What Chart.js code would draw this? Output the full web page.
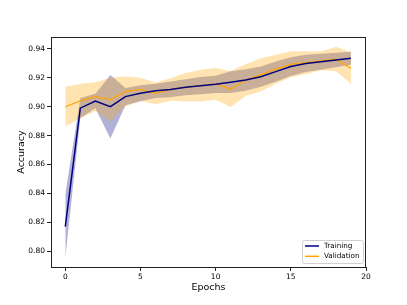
<!DOCTYPE html>
<html>
<head>
<meta charset="utf-8">
<script src="https://cdn.jsdelivr.net/npm/chart.js@4"></script>
<style>
  html, body { margin: 0; padding: 0; background: #fff; }
  #wrap { width: 407px; height: 305px; }
</style>
</head>
<body>
<div id="wrap"><canvas id="myChart" width="407" height="305"></canvas></div>
<script>
const epochs = [0, 1, 2, 3, 4, 5, 6, 7, 8, 9, 10, 11, 12, 13, 14, 15, 16, 17, 18, 19];
const trainMean = [0.817, 0.899, 0.904, 0.900, 0.907, 0.9093, 0.911, 0.912, 0.9135, 0.9146, 0.9155, 0.917, 0.9185, 0.9208, 0.9243, 0.9278, 0.930, 0.9312, 0.9324, 0.9336];
const trainStd = [0.022, 0.007, 0.005, 0.022, 0.006, 0.0055, 0.005, 0.0055, 0.0055, 0.006, 0.006, 0.0075, 0.0075, 0.007, 0.007, 0.0065, 0.006, 0.0055, 0.005, 0.0045];
const valMean = [0.900, 0.904, 0.907, 0.905, 0.9105, 0.912, 0.9093, 0.912, 0.9135, 0.9146, 0.9158, 0.9123, 0.9185, 0.922, 0.926, 0.9294, 0.9305, 0.9317, 0.933, 0.9267];
const valStd = [0.0137, 0.012, 0.010, 0.015, 0.0104, 0.0081, 0.0075, 0.0078, 0.0099, 0.011, 0.011, 0.0125, 0.011, 0.0115, 0.010, 0.009, 0.008, 0.0065, 0.0085, 0.011];
const xTicks = [0, 5, 10, 15, 20];
const yTicks = [0.80, 0.82, 0.84, 0.86, 0.88, 0.90, 0.92, 0.94];
const seriesNames = ['Training', 'Validation'];
const lineColors = ['#000080', '#ffa500'];
const bandColors = ['rgba(0, 0, 128, 0.3)', 'rgba(255, 165, 0, 0.3)'];

function pts(arr) {
  return epochs.map((e, i) => ({ x: e, y: arr[i] }));
}
function band(mean, std, sign) {
  return epochs.map((e, i) => ({ x: e, y: mean[i] + sign * std[i] }));
}

// box around the plot + legend in the lower right
const framePlugin = {
  id: 'frame',
  afterDraw(chart) {
    const ctx = chart.ctx;
    const a = chart.chartArea;
    ctx.save();
    ctx.strokeStyle = '#222';
    ctx.lineWidth = 1;
    ctx.strokeRect(a.left + 0.5, a.top + 0.5, a.right - a.left - 1, a.bottom - a.top);

    // legend
    const bx = 302, by = 240, bw = 61, bh = 23;
    ctx.fillStyle = 'rgba(255,255,255,0.85)';
    ctx.strokeStyle = '#d0d0d0';
    ctx.lineWidth = 1;
    ctx.beginPath();
    ctx.roundRect(bx + 0.5, by + 0.5, bw, bh, 2);
    ctx.fill();
    ctx.stroke();
    ctx.font = '7.2px "DejaVu Sans"';
    ctx.textBaseline = 'middle';
    seriesNames.forEach((name, i) => {
      const y = by + 6 + i * 10.3;
      ctx.strokeStyle = lineColors[i];
      ctx.lineWidth = 1.5;
      ctx.beginPath();
      ctx.moveTo(bx + 3, y);
      ctx.lineTo(bx + 17, y);
      ctx.stroke();
      ctx.fillStyle = '#000';
      ctx.fillText(name, bx + 22, y);
    });
    ctx.restore();
  }
};

// first dataset is drawn on top
new Chart('myChart', {
  type: 'line',
  data: {
    datasets: [
      { label: seriesNames[0], data: pts(trainMean), borderColor: lineColors[0], borderWidth: 1.5, pointRadius: 0, fill: false },
      { label: seriesNames[1], data: pts(valMean), borderColor: lineColors[1], borderWidth: 1.3, pointRadius: 0, fill: false },
      { data: band(valMean, valStd, 1), borderWidth: 0, pointRadius: 0, backgroundColor: bandColors[1], fill: '+1' },
      { data: band(valMean, valStd, -1), borderWidth: 0, pointRadius: 0, fill: false },
      { data: band(trainMean, trainStd, 1), borderWidth: 0, pointRadius: 0, backgroundColor: bandColors[0], fill: '+1' },
      { data: band(trainMean, trainStd, -1), borderWidth: 0, pointRadius: 0, fill: false }
    ]
  },
  options: {
    responsive: false,
    animation: false,
    layout: { padding: { left: 0, top: 37, right: 41, bottom: 0 } },
    plugins: {
      legend: { display: false },
      tooltip: { enabled: false }
    },
    scales: {
      x: {
        type: 'linear',
        min: -0.95,
        max: 20,
        afterBuildTicks(scale) { scale.ticks = xTicks.map(v => ({ value: v })); },
        afterFit(scale) { scale.height = 38; },
        grid: { display: true, drawOnChartArea: false, drawTicks: true, tickLength: 4, tickColor: '#222' },
        border: { display: false },
        ticks: { color: '#000', padding: 2, maxRotation: 0, font: { family: 'DejaVu Sans', size: 7.5 } },
        title: { display: true, text: 'Epochs', color: '#000', padding: { top: 0, bottom: 12 }, font: { family: 'DejaVu Sans', size: 9.5 } }
      },
      y: {
        min: 0.789,
        max: 0.9483,
        afterBuildTicks(scale) { scale.ticks = yTicks.map(v => ({ value: v })); },
        afterFit(scale) { scale.width = 51; },
        grid: { display: true, drawOnChartArea: false, drawTicks: true, tickLength: 4, tickColor: '#222' },
        border: { display: false },
        ticks: { color: '#000', padding: 2, font: { family: 'DejaVu Sans', size: 7.5 }, callback: v => v.toFixed(2) },
        title: { display: true, text: 'Accuracy', color: '#000', padding: { top: 16, bottom: 0 }, font: { family: 'DejaVu Sans', size: 9.5 } }
      }
    }
  },
  plugins: [framePlugin]
});
</script>
</body>
</html>
